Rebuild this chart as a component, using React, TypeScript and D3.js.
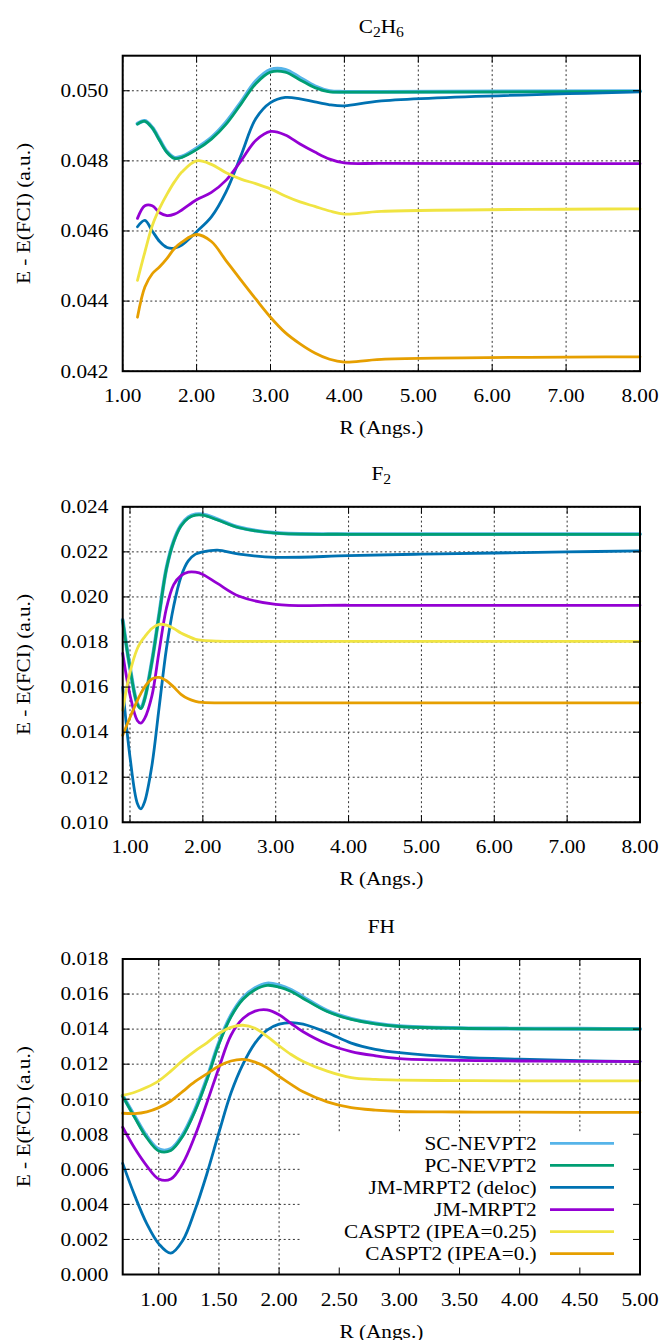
import React from "react";
import * as d3 from "d3";

// ---------- data ----------
const SERIES_NAMES = [
  "SC-NEVPT2",
  "PC-NEVPT2",
  "JM-MRPT2 (deloc)",
  "JM-MRPT2",
  "CASPT2 (IPEA=0.25)",
  "CASPT2 (IPEA=0.)",
];
const SERIES_COLORS = ["#56B4E9", "#009E73", "#0072B2", "#9400D3", "#F0E442", "#E69F00"];

// C2H6
const C2H6_R = [1.2, 1.3, 1.4, 1.5, 1.6, 1.7, 1.8, 2.0, 2.2, 2.4, 2.6, 2.8, 3.0, 3.2, 3.4, 3.6, 3.8, 4.0, 4.5, 8.0];
const C2H6_SC = [0.04906, 0.04914, 0.04895, 0.0486, 0.04826, 0.04809, 0.04812, 0.04836, 0.04866, 0.0491, 0.04967, 0.05027, 0.0506, 0.0506, 0.05037, 0.05013, 0.04999, 0.04997, 0.04997, 0.04999];
const C2H6_PC = [0.04905, 0.04913, 0.04894, 0.04858, 0.04824, 0.04807, 0.0481, 0.04832, 0.04862, 0.04905, 0.04962, 0.0502, 0.05053, 0.05053, 0.05031, 0.05009, 0.04997, 0.04996, 0.04996, 0.04998];
const C2H6_DELOC = [0.04612, 0.0463, 0.046, 0.0457, 0.04553, 0.04551, 0.0456, 0.04598, 0.0464, 0.04712, 0.04815, 0.0492, 0.04966, 0.04981, 0.04977, 0.04968, 0.0496, 0.04957, 0.04971, 0.04997];
const C2H6_JM = [0.04636, 0.04672, 0.04672, 0.04652, 0.04644, 0.04648, 0.0466, 0.04689, 0.0471, 0.04745, 0.048, 0.04858, 0.04884, 0.04874, 0.04848, 0.04825, 0.04805, 0.04794, 0.04793, 0.04792];
const C2H6_IPEA25 = [0.04459, 0.0454, 0.04615, 0.04665, 0.04705, 0.0474, 0.04768, 0.048, 0.0479, 0.04766, 0.04748, 0.04735, 0.0472, 0.047, 0.04683, 0.0467, 0.04657, 0.04648, 0.04656, 0.04663];
const C2H6_IPEA0 = [0.04354, 0.0444, 0.04478, 0.04498, 0.04522, 0.0455, 0.04568, 0.0459, 0.0457, 0.04515, 0.0446, 0.04406, 0.04354, 0.0431, 0.04278, 0.04252, 0.04234, 0.04226, 0.04234, 0.04241];

// F2
const F2_R = [0.9, 1.0, 1.1, 1.15, 1.2, 1.3, 1.4, 1.5, 1.6, 1.7, 1.8, 1.9, 2.0, 2.2, 2.5, 3.0, 4.0, 5.0, 6.0, 7.0, 8.0];
const F2_SC = [0.01898, 0.01687, 0.01527, 0.01507, 0.01547, 0.01712, 0.01922, 0.02127, 0.02248, 0.02318, 0.02353, 0.02366, 0.02366, 0.02345, 0.02309, 0.02284, 0.02279, 0.02279, 0.02279, 0.02279, 0.02279];
const F2_PC = [0.01896, 0.01685, 0.01525, 0.01505, 0.01545, 0.0171, 0.0192, 0.02125, 0.02245, 0.02315, 0.0235, 0.02363, 0.02363, 0.02342, 0.02307, 0.02283, 0.02278, 0.02278, 0.02278, 0.02278, 0.02278];
const F2_DELOC = [0.016, 0.0129, 0.01085, 0.0106, 0.0109, 0.0125, 0.0151, 0.0177, 0.0196, 0.0209, 0.0216, 0.0219, 0.022, 0.02208, 0.0219, 0.02176, 0.02183, 0.0219, 0.02195, 0.022, 0.02204];
const F2_JM = [0.0175, 0.01565, 0.01452, 0.0144, 0.0146, 0.0156, 0.0176, 0.0195, 0.02055, 0.02095, 0.0211, 0.0211, 0.021, 0.0206, 0.02003, 0.01967, 0.01963, 0.01963, 0.01963, 0.01963, 0.01963];
const F2_IPEA25 = [0.01497, 0.01665, 0.0177, 0.018, 0.01822, 0.0186, 0.01878, 0.01875, 0.0186, 0.0184, 0.01825, 0.01812, 0.01807, 0.01804, 0.01803, 0.01803, 0.01803, 0.01803, 0.01803, 0.01803, 0.01803];
const F2_IPEA0 = [0.01386, 0.01465, 0.0154, 0.01572, 0.016, 0.01636, 0.01643, 0.01628, 0.016, 0.01568, 0.01548, 0.01537, 0.01532, 0.0153, 0.0153, 0.0153, 0.0153, 0.0153, 0.0153, 0.0153, 0.0153];

// FH
const FH_R = [0.7, 0.8, 0.9, 1.0, 1.1, 1.2, 1.3, 1.4, 1.5, 1.6, 1.7, 1.8, 1.9, 2.0, 2.1, 2.2, 2.4, 2.6, 2.8, 3.0, 3.5, 4.0, 4.5, 5.0];
const FH_SC = [0.0102, 0.00902, 0.00788, 0.00714, 0.00716, 0.00798, 0.00938, 0.01118, 0.01323, 0.01478, 0.01579, 0.01634, 0.0166, 0.0165, 0.01624, 0.01583, 0.01505, 0.01459, 0.01433, 0.01417, 0.01406, 0.01403, 0.01402, 0.01401];
const FH_PC = [0.01018, 0.00895, 0.0078, 0.00705, 0.00708, 0.0079, 0.0093, 0.0111, 0.01315, 0.0147, 0.0157, 0.01625, 0.0165, 0.0164, 0.01615, 0.01575, 0.015, 0.01455, 0.0143, 0.01415, 0.01405, 0.01402, 0.01401, 0.014];
const FH_DELOC = [0.00634, 0.0045, 0.0029, 0.00175, 0.00122, 0.00195, 0.00365, 0.00575, 0.0081, 0.01035, 0.012, 0.0132, 0.01394, 0.01428, 0.01437, 0.01428, 0.0138, 0.0132, 0.01285, 0.01266, 0.0124, 0.01228, 0.0122, 0.01215];
const FH_JM = [0.0084, 0.0072, 0.0062, 0.00545, 0.00545, 0.00635, 0.0079, 0.0098, 0.0118, 0.01365, 0.0146, 0.01503, 0.0151, 0.01482, 0.01432, 0.01385, 0.01315, 0.01272, 0.01248, 0.01232, 0.01222, 0.01218, 0.01216, 0.01215];
const FH_IPEA25 = [0.01022, 0.0104, 0.01068, 0.01105, 0.0116, 0.01222, 0.01275, 0.01322, 0.01375, 0.0141, 0.01422, 0.01405, 0.01359, 0.01305, 0.01255, 0.01215, 0.0116, 0.01123, 0.01113, 0.01109, 0.01106, 0.01105, 0.01105, 0.01105];
const FH_IPEA0 = [0.0092, 0.00918, 0.00928, 0.00952, 0.0099, 0.01045, 0.011, 0.01145, 0.0119, 0.01218, 0.01227, 0.01212, 0.0118, 0.0113, 0.01085, 0.01042, 0.00985, 0.00952, 0.00938, 0.0093, 0.00927, 0.00926, 0.00925, 0.00925];

// ticks
const X_TICKS_8 = [1, 2, 3, 4, 5, 6, 7, 8];
const X_TICKS_FH = [1.0, 1.5, 2.0, 2.5, 3.0, 3.5, 4.0, 4.5, 5.0];
const Y_TICKS_C2H6 = [0.042, 0.044, 0.046, 0.048, 0.05];
const Y_TICKS_F2 = [0.01, 0.012, 0.014, 0.016, 0.018, 0.02, 0.022, 0.024];
const Y_TICKS_FH = [0, 0.002, 0.004, 0.006, 0.008, 0.01, 0.012, 0.014, 0.016, 0.018];

// ---------- layout ----------
const W = 662;
const H = 1340;
const LEFT = 122.7;
const RIGHT = 640;
const PH = 315.5;
const FONT = "Liberation Serif, Times New Roman, serif";
const FS = 19;
const SX = 1.12;

const T = ({ x, y, anchor = "middle", rotate = false, size = FS, children }: any) => (
  <text
    transform={`translate(${x},${y})${rotate ? " rotate(-90)" : ""} scale(${SX},1)`}
    textAnchor={anchor}
    fontSize={size}
    fontFamily={FONT}
    fill="#000"
  >
    {children}
  </text>
);

const panels = [
  {
    key: "c2h6",
    title: (
      <>
        C<tspan fontSize={14} dy={4}>2</tspan>
        <tspan dy={-4}>H</tspan>
        <tspan fontSize={14} dy={4}>6</tspan>
      </>
    ),
    titleY: 33,
    top: 55.7,
    R: C2H6_R,
    series: [C2H6_SC, C2H6_PC, C2H6_DELOC, C2H6_JM, C2H6_IPEA25, C2H6_IPEA0],
    xDomain: [1, 8],
    yDomain: [0.042, 0.051],
    xTicks: X_TICKS_8,
    yTicks: Y_TICKS_C2H6,
    legend: false,
  },
  {
    key: "f2",
    title: (
      <>
        F<tspan fontSize={14} dy={4}>2</tspan>
      </>
    ),
    titleY: 480,
    top: 506.8,
    R: F2_R,
    series: [F2_SC, F2_PC, F2_DELOC, F2_JM, F2_IPEA25, F2_IPEA0],
    xDomain: [0.9, 8],
    yDomain: [0.01, 0.024],
    xTicks: X_TICKS_8,
    yTicks: Y_TICKS_F2,
    legend: false,
  },
  {
    key: "fh",
    title: <>FH</>,
    titleY: 933,
    top: 959,
    R: FH_R,
    series: [FH_SC, FH_PC, FH_DELOC, FH_JM, FH_IPEA25, FH_IPEA0],
    xDomain: [0.7, 5],
    yDomain: [0, 0.018],
    xTicks: X_TICKS_FH,
    yTicks: Y_TICKS_FH,
    legend: true,
  },
];

const fx = d3.format(".2f");
const fy = d3.format(".3f");

function Panel({ p }: any) {
  const bottom = p.top + PH;
  const x = d3.scaleLinear().domain(p.xDomain).range([LEFT, RIGHT]);
  const y = d3.scaleLinear().domain(p.yDomain).range([bottom, p.top]);
  const line = d3
    .line<number>()
    .x((_d, i) => x(p.R[i]))
    .y((d) => y(d))
    .curve(d3.curveCatmullRom.alpha(0.5));
  const midY = (p.top + bottom) / 2;
  const midX = (LEFT + RIGHT) / 2;
  const TL = 7;
  const grid = "#333";
  const legendTop = 1132;
  const legendLeft = 300;
  return (
    <g>
      {p.xTicks.map((t: number) => (
        <line key={"gx" + t} x1={x(t)} x2={x(t)} y1={p.top} y2={bottom} stroke={grid} strokeWidth={1} strokeDasharray="2,2.6" />
      ))}
      {p.yTicks.map((t: number) => (
        <line key={"gy" + t} x1={LEFT} x2={RIGHT} y1={y(t)} y2={y(t)} stroke={grid} strokeWidth={1} strokeDasharray="2,2.6" />
      ))}
      {p.legend && (
        <rect x={legendLeft} y={legendTop} width={RIGHT - legendLeft} height={bottom - legendTop} fill="#fff" />
      )}
      <g fill="none" strokeLinejoin="round" strokeLinecap="round">
        {p.series.map((s: number[], i: number) => (
          <path key={"s" + i} d={line(s) || ""} stroke={SERIES_COLORS[i]} strokeWidth={i === 0 ? 3.8 : 2.8} />
        ))}
      </g>
      {p.xTicks.map((t: number) => (
        <g key={"tx" + t}>
          <line x1={x(t)} x2={x(t)} y1={bottom} y2={bottom - TL} stroke="#000" strokeWidth={1} />
          <line x1={x(t)} x2={x(t)} y1={p.top} y2={p.top + TL} stroke="#000" strokeWidth={1} />
          <T x={x(t)} y={bottom + 31}>{fx(t)}</T>
        </g>
      ))}
      {p.yTicks.map((t: number) => (
        <g key={"ty" + t}>
          <line x1={LEFT} x2={LEFT + TL} y1={y(t)} y2={y(t)} stroke="#000" strokeWidth={1} />
          <line x1={RIGHT} x2={RIGHT - TL} y1={y(t)} y2={y(t)} stroke="#000" strokeWidth={1} />
          <T x={108.3} y={y(t) + 6.3} anchor="end">{fy(t)}</T>
        </g>
      ))}
      <rect x={LEFT} y={p.top} width={RIGHT - LEFT} height={PH} fill="none" stroke="#000" strokeWidth={2} />
      <T x={midX} y={p.titleY}>{p.title}</T>
      <T x={midX} y={bottom + 63}>R (Angs.)</T>
      <T x={30} y={midY} rotate>E - E(FCI) (a.u.)</T>
      {p.legend &&
        SERIES_NAMES.map((name, i) => {
          const ry = 1143.3 + i * 22.08;
          return (
            <g key={"lg" + i}>
              <T x={536.7} y={ry + 6.3} anchor="end">{name}</T>
              <line x1={550} x2={614} y1={ry} y2={ry} stroke={SERIES_COLORS[i]} strokeWidth={2.8} />
            </g>
          );
        })}
    </g>
  );
}

export default function App() {
  return (
    <svg
      width={W}
      height={H}
      viewBox={`0 0 ${W} ${H}`}
      style={{ position: "absolute", left: 0, top: 0, background: "#fff" }}
    >
      <rect width={W} height={H} fill="#fff" />
      {panels.map((p) => (
        <Panel key={p.key} p={p} />
      ))}
    </svg>
  );
}
